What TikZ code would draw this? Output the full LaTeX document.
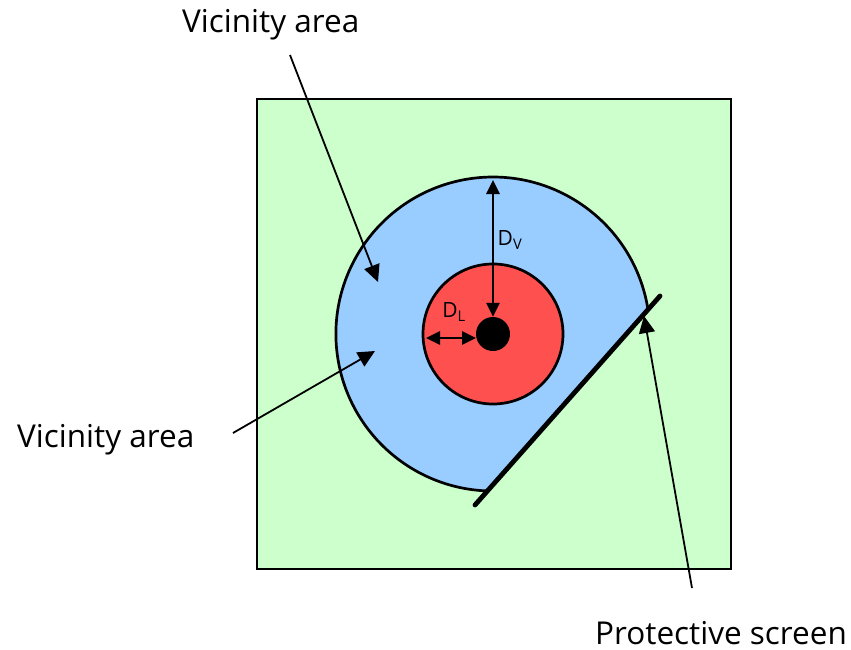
\documentclass[tikz,border=0pt]{standalone}
\usepackage{fontspec}
\setmainfont{Open Sans}
\usetikzlibrary{arrows.meta}
\definecolor{zonegreen}{RGB}{204,255,204}
\definecolor{zoneblue}{RGB}{153,204,255}
\definecolor{zonered}{RGB}{255,80,80}
\tikzset{
  label text/.style={font=\fontsize{31.5}{36}\selectfont, inner sep=0pt, anchor=base west},
  dim text/.style={font=\fontsize{21}{24}\selectfont, inner sep=0pt},
  pointer/.style={line width=1.8pt, -{Triangle[length=17pt,width=16pt]}},
  dimarrow/.style={line width=2.6pt, {Triangle[length=14pt,width=13pt]}-{Triangle[length=14pt,width=13pt]}},
}
\begin{document}
\begin{tikzpicture}[x=1pt,y=-1pt]
\useasboundingbox (0,0) rectangle (851,650);
% vicinity square
\node[draw, line width=2.9pt, fill=zonegreen, minimum width=474pt, minimum height=470pt, inner sep=0pt] (square) at (494,334) {};
% geometry
\coordinate (C) at (493,334);
\coordinate (S1) at (475,505);
\coordinate (S2) at (660,296);
\coordinate (P1) at (648.0,309.6);
% blue vicinity zone
\draw[line width=2.7pt, fill=zoneblue] (P1) arc[start angle=-8.95, end angle=-268.03, radius=157] -- cycle;
% red live zone
\draw[line width=2.7pt, fill=zonered] (C) circle[radius=70];
% live part
\fill (493,334) circle[radius=17];
\node[circle, minimum size=34pt, inner sep=0pt] (live) at (493,334) {};
% protective screen
\draw[line width=4.8pt, line cap=round] (S1) -- (S2);
% dimension arrows
\coordinate (vtop) at (493,180);
\coordinate (lleft) at (426,338);
\coordinate (lright) at (476,338);
\draw[dimarrow] (vtop) -- (live.north);
\draw[dimarrow] (lleft) -- (lright);
\node[dim text] (dv) at (510,240) {D\textsubscript{V}};
\node[dim text] (dl) at (454,312) {D\textsubscript{L}};
% labels
\node[label text] (vtext1) at (182,33) {Vicinity area};
\node[label text] (vtext2) at (17,447) {Vicinity area};
\node[label text] (ptext) at (595,644) {Protective screen};
\coordinate (t1) at (378,282);
\coordinate (t2) at (375,351);
\coordinate (t3) at (644,316);
\coordinate (s1) at (290,55);
\coordinate (s2) at (233,433);
\coordinate (s3) at (692,588);
\draw[pointer] (s1) -- (t1);
\draw[pointer] (s2) -- (t2);
\draw[pointer] (s3) -- (t3);
\end{tikzpicture}
\end{document}
